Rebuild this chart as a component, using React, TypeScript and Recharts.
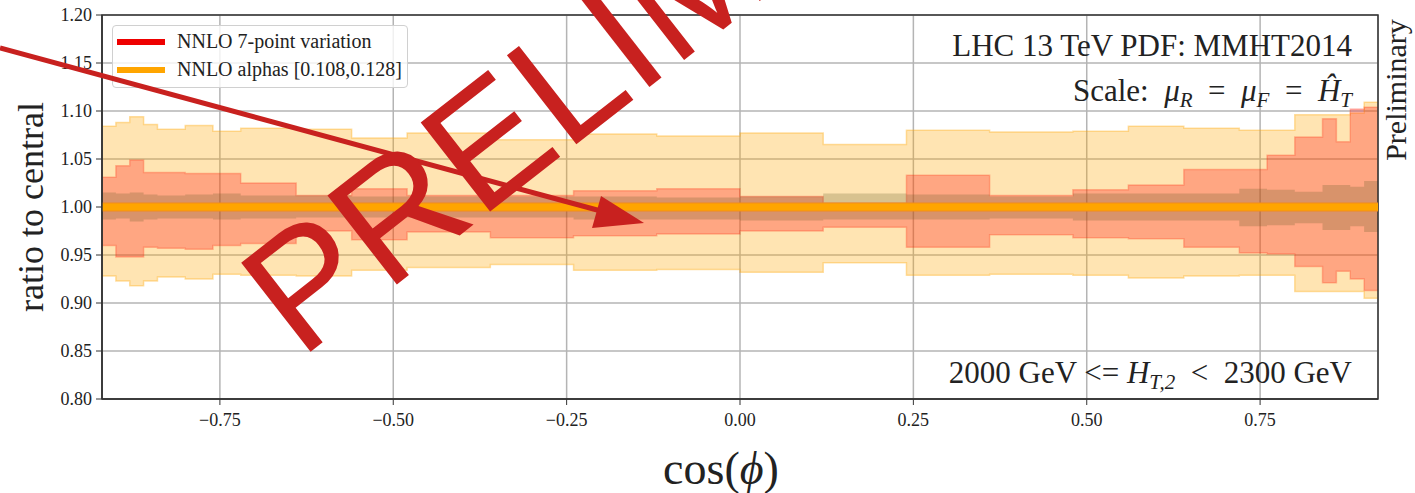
import React from "react";
import {
  Area,
  CartesianGrid,
  ComposedChart,
  Legend,
  Line,
  ReferenceArea,
  XAxis,
  YAxis,
} from "recharts";

// bin edges in cos(phi)
const edges = [
  -0.92, -0.9, -0.88, -0.86, -0.84, -0.8, -0.76, -0.72, -0.64, -0.56, -0.48, -0.36, -0.24, -0.12,
  0, 0.12, 0.24, 0.36, 0.48, 0.56, 0.64, 0.72, 0.76, 0.8, 0.84, 0.86, 0.88, 0.9, 0.92,
];

// NNLO alphas [0.108,0.128] envelope (one value per bin)
const alphasUp = [
  1.084, 1.088, 1.094, 1.086, 1.081, 1.085, 1.079, 1.082, 1.081, 1.072, 1.077, 1.07, 1.076, 1.074,
  1.077, 1.065, 1.08, 1.078, 1.079, 1.084, 1.082, 1.08, 1.08, 1.096, 1.096, 1.096, 1.098, 1.109,
];
const alphasLo = [
  0.928, 0.923, 0.918, 0.923, 0.927, 0.925, 0.93, 0.929, 0.928, 0.934, 0.937, 0.94, 0.934, 0.935,
  0.932, 0.942, 0.929, 0.93, 0.929, 0.926, 0.928, 0.929, 0.929, 0.912, 0.912, 0.912, 0.912, 0.905,
];

// NNLO 7-point scale variation envelope
const scaleUp = [
  1.031, 1.043, 1.049, 1.036, 1.036, 1.035, 1.035, 1.025, 1.012, 1.019, 1.012, 1.012, 1.017, 1.019,
  1.011, 1.004, 1.033, 1.012, 1.018, 1.023, 1.039, 1.039, 1.054, 1.073, 1.092, 1.068, 1.102, 1.104,
];
const scaleLo = [
  0.96, 0.948, 0.948, 0.958, 0.957, 0.956, 0.96, 0.962, 0.975, 0.966, 0.974, 0.968, 0.97, 0.972,
  0.975, 0.979, 0.958, 0.971, 0.968, 0.967, 0.958, 0.952, 0.951, 0.938, 0.921, 0.933, 0.925, 0.913,
];

// inner (darker) band
const innerUp = [
  1.015, 1.014, 1.015, 1.013, 1.012, 1.013, 1.014, 1.012, 1.012, 1.011, 1.011, 1.011, 1.011, 1.01,
  1.011, 1.014, 1.013, 1.011, 1.014, 1.014, 1.014, 1.019, 1.018, 1.016, 1.023, 1.023, 1.021, 1.027,
];
const innerLo = [
  0.987, 0.988, 0.985, 0.987, 0.988, 0.988, 0.987, 0.988, 0.989, 0.989, 0.989, 0.989, 0.987, 0.987,
  0.986, 0.987, 0.987, 0.988, 0.986, 0.986, 0.986, 0.98, 0.981, 0.983, 0.976, 0.976, 0.98, 0.974,
];

const central = [
  1, 1, 1, 1, 1, 1, 1, 1, 1, 1, 1, 1, 1, 1, 1, 1, 1, 1, 1, 1, 1, 1, 1, 1, 1, 1, 1, 1,
];

const xTicks = [-0.75, -0.5, -0.25, 0, 0.25, 0.5, 0.75];
const yTicks = [0.8, 0.85, 0.9, 0.95, 1.0, 1.05, 1.1, 1.15, 1.2];

const legendItems = [
  { name: "NNLO 7-point variation", color: "#EE0000" },
  { name: "NNLO alphas [0.108,0.128]", color: "#FFA500" },
];

const SERIF = "'Liberation Serif', 'Times New Roman', serif";
const RED = "#C8211F";
const SP = "\u2002";

// step plot: last edge repeats the last bin
const nBins = central.length;
const data = edges.map((x, i) => {
  const b = Math.min(i, nBins - 1);
  return {
    x,
    alphas: [alphasLo[b], alphasUp[b]],
    scale: [scaleLo[b], scaleUp[b]],
    inner: [innerLo[b], innerUp[b]],
    central: central[b],
  };
});

const fmtX = (v: number) => v.toFixed(2).replace("-", "\u2212");
const fmtY = (v: number) => v.toFixed(2);

function LegendBox() {
  return (
    <div
      style={{
        width: 296,
        height: 63,
        boxSizing: "border-box",
        border: "1px solid #d0d0d0",
        borderRadius: 4,
        background: "rgba(255,255,255,0.8)",
        fontFamily: SERIF,
        fontSize: 20,
        color: "#222",
      }}
    >
      {legendItems.map((it, i) => (
        <div key={it.name} style={{ position: "absolute", left: 5, top: 5 + i * 28, display: "flex", alignItems: "center", whiteSpace: "nowrap" }}>
          <span style={{ display: "inline-block", width: 48, height: 6, background: it.color, marginRight: 12 }} />
          <span>{it.name}</span>
        </div>
      ))}
    </div>
  );
}

export default function App() {
  return (
    <div style={{ position: "absolute", left: 0, top: 0, width: 1415, height: 493, background: "#fff" }}>
      <ComposedChart width={1415} height={493} data={data} margin={{ top: 15, right: 37, bottom: 0, left: 0 }}>
        <CartesianGrid stroke="#b4b4b4" strokeWidth={1.5} />
        <XAxis
          dataKey="x"
          type="number"
          domain={[-0.92, 0.92]}
          ticks={xTicks}
          tickFormatter={fmtX}
          height={94}
          tickSize={6}
          tickMargin={8}
          tick={{ fontFamily: SERIF, fontSize: 18, fill: "#222" }}
          tickLine={{ stroke: "#333" }}
          axisLine={{ stroke: "#333", strokeWidth: 1.5 }}
          allowDataOverflow
        />
        <YAxis
          type="number"
          domain={[0.8, 1.2]}
          ticks={yTicks}
          tickFormatter={fmtY}
          width={102}
          tickSize={6}
          tickMargin={4}
          tick={{ fontFamily: SERIF, fontSize: 18, fill: "#222" }}
          tickLine={{ stroke: "#333" }}
          axisLine={{ stroke: "#333", strokeWidth: 1.5 }}
          allowDataOverflow
        />
        <Area
          dataKey="alphas"
          type="stepAfter"
          fill="#FFA500"
          fillOpacity={0.3}
          stroke="#FFA500"
          strokeOpacity={0.35}
          strokeWidth={1.5}
          dot={false}
          activeDot={false}
          isAnimationActive={false}
        />
        <Area
          dataKey="scale"
          type="stepAfter"
          fill="#FF0000"
          fillOpacity={0.27}
          stroke="#FF2000"
          strokeOpacity={0.25}
          strokeWidth={1.5}
          dot={false}
          activeDot={false}
          isAnimationActive={false}
        />
        <Area
          dataKey="inner"
          type="stepAfter"
          fill="#645A28"
          fillOpacity={0.25}
          stroke="none"
          dot={false}
          activeDot={false}
          isAnimationActive={false}
        />
        <Line dataKey="central" type="stepAfter" stroke="#F28C1A" strokeWidth={9} dot={false} activeDot={false} isAnimationActive={false} />
        <Line dataKey="central" type="stepAfter" stroke="#FFA500" strokeWidth={7} dot={false} activeDot={false} isAnimationActive={false} />
        <ReferenceArea x1={-0.92} x2={0.92} y1={0.8} y2={1.2} fill="none" stroke="#333" strokeWidth={1.5} ifOverflow="visible" />
        <Legend
          layout="vertical"
          align="center"
          verticalAlign="middle"
          wrapperStyle={{ left: 112, top: 25, width: 296, height: 63 }}
          content={() => <LegendBox />}
        />
      </ComposedChart>

      <svg width={1415} height={493} style={{ position: "absolute", left: 0, top: 0, pointerEvents: "none" }}>
        <g fontFamily={SERIF} fill="#222">
          <text x={1352} y={56} fontSize={31} textAnchor="end">LHC 13 TeV PDF: MMHT2014</text>
          <text x={1352} y={101} fontSize={31} textAnchor="end">
            {"Scale:" + SP}
            <tspan fontStyle="italic">μ</tspan>
            <tspan fontStyle="italic" fontSize={21} dy={6}>R</tspan>
            <tspan dy={-6}>{SP + "=" + SP}</tspan>
            <tspan fontStyle="italic">μ</tspan>
            <tspan fontStyle="italic" fontSize={21} dy={6}>F</tspan>
            <tspan dy={-6}>{SP + "=" + SP}</tspan>
            <tspan fontStyle="italic">Ĥ</tspan>
            <tspan fontStyle="italic" fontSize={21} dy={6}>T</tspan>
          </text>
          <text x={1352} y={383} fontSize={31} textAnchor="end">
            {"2000 GeV <= "}
            <tspan fontStyle="italic">H</tspan>
            <tspan fontStyle="italic" fontSize={21} dy={6}>T,2</tspan>
            <tspan dy={-6}>{SP + "<" + SP + "2300 GeV"}</tspan>
          </text>
          <text transform="translate(1406,90) rotate(-90)" fontSize={30} textAnchor="middle">Preliminary</text>
          <text transform="translate(43,207) rotate(-90)" fontSize={36} textAnchor="middle">ratio to central</text>
          <text x={721} y={484} fontSize={46} textAnchor="middle">
            cos(<tspan fontStyle="italic">ϕ</tspan>)
          </text>
        </g>
        <g>
          <line x1={0} y1={48} x2={612} y2={214} stroke={RED} strokeWidth={5} />
          <polygon points="601,196 644,223 592,228" fill={RED} />
          <text
            transform="translate(300,360) rotate(-38)"
            fontFamily="'Liberation Sans', Arial, sans-serif"
            fontSize={164}
            fill={RED}
          >
            PRELIMINARY
          </text>
        </g>
      </svg>
    </div>
  );
}
